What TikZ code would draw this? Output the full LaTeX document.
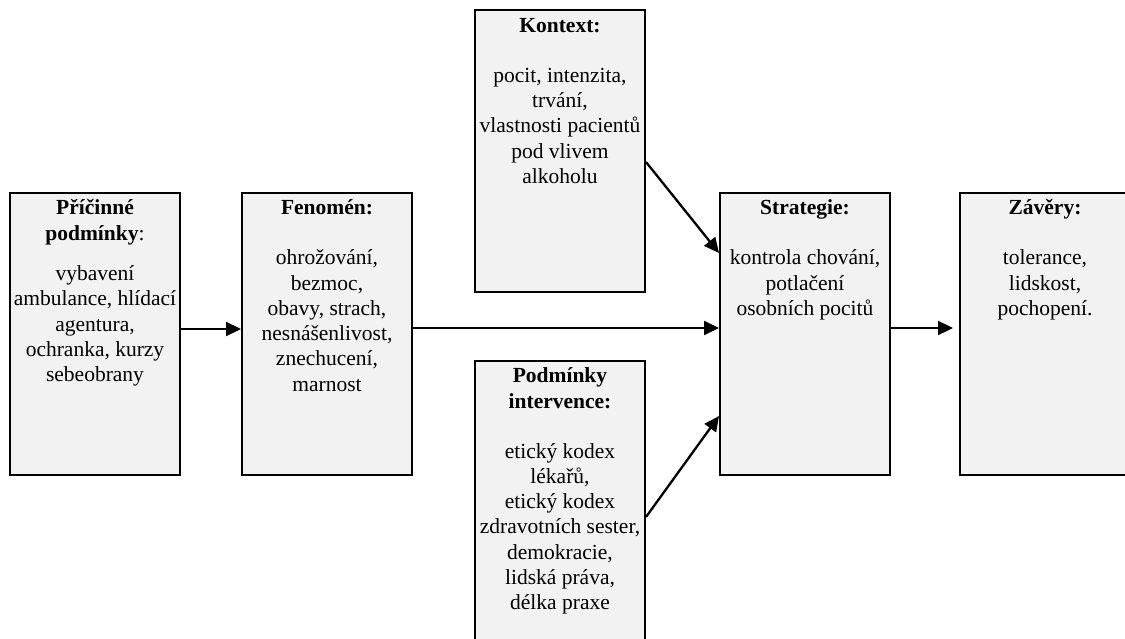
\documentclass[tikz,border=0pt]{standalone}
\usepackage{fontspec}
\setmainfont{Liberation Serif}
\usetikzlibrary{arrows.meta}
\definecolor{boxfill}{HTML}{F2F2F2}
\newcommand\fl{\rule{0pt}{18pt}}
\begin{document}
\begin{tikzpicture}[x=1pt,y=-1pt,
  box/.style={draw, line width=2pt, fill=boxfill, minimum width=170pt, minimum height=282pt, inner sep=0pt},
  txt/.style={anchor=north, align=center, inner sep=0pt, font=\fontsize{21.5pt}{25.3pt}\selectfont},
  arr/.style={line width=2.3pt, -{Triangle[length=15pt,width=14pt]}}]
\clip (0,0) rectangle (1125,639);
\fill[white] (0,0) rectangle (1125,639);

\node[box] (b1)  at (95,334) {};
\node[box] (b2)  at (327,334) {};
\node[box] (ctx) at (560,151.5) {};
\node[box] (pod) at (560,502) {};
\node[box] (str) at (805,334) {};
\node[box] (zav) at (1045,334) {};

\node[txt] (t1) at ([yshift=-4.5pt]b1.north) {\fl\textbf{Příčinné}\\\textbf{podmínky}:\\[15.2pt]vybavení\\ambulance, hlídací\\agentura,\\ochranka, kurzy\\sebeobrany};
\node[txt] (t2) at ([yshift=-4.5pt]b2.north) {\fl\textbf{Fenomén:}\\[24.7pt]ohrožování,\\bezmoc,\\obavy, strach,\\nesnášenlivost,\\znechucení,\\marnost};
\node[txt] (t3) at ([yshift=-4.5pt]ctx.north) {\fl\textbf{Kontext:}\\[24.7pt]pocit, intenzita,\\trvání,\\vlastnosti pacientů\\pod vlivem\\alkoholu};
\node[txt] (t4) at ([yshift=-4.5pt]pod.north) {\fl\textbf{Podmínky}\\\textbf{intervence:}\\[24.7pt]etický kodex\\lékařů,\\etický kodex\\zdravotních sester,\\demokracie,\\lidská práva,\\délka praxe};
\node[txt] (t5) at ([yshift=-4.5pt]str.north) {\fl\textbf{Strategie:}\\[24.7pt]kontrola chování,\\potlačení\\osobních pocitů};
\node[txt] (t6) at ([yshift=-4.5pt]zav.north) {\fl\textbf{Závěry:}\\[24.7pt]tolerance,\\lidskost,\\pochopení.};

\draw[arr] ([yshift=5pt]b1.east) -- ([yshift=5pt]b2.west);
\draw[arr] ([yshift=6pt]b2.east) -- ([yshift=6pt]str.west);
\draw[arr, shorten >=6pt] ([yshift=6pt]str.east) -- ([yshift=6pt]zav.west);
\draw[arr] ([yshift=-10.5pt]ctx.east) -- ([yshift=81pt]str.west);
\draw[arr] ([yshift=-15pt]pod.east) -- ([yshift=-82pt]str.west);
\end{tikzpicture}
\end{document}
